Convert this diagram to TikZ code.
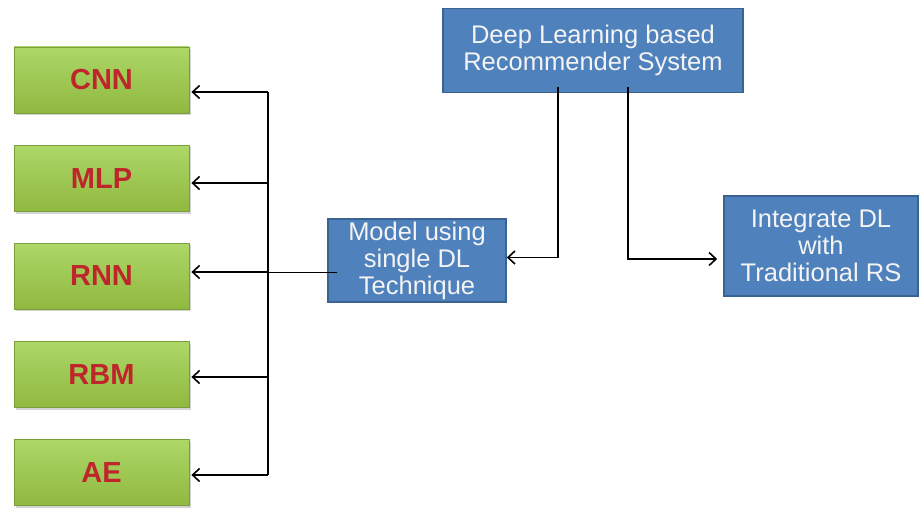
\documentclass[tikz,border=0pt]{standalone}
\usepackage{fontspec}
\setmainfont{Liberation Sans}
\usepackage{tikz}
\usetikzlibrary{arrows.meta,shadows}
\definecolor{boxblue}{HTML}{4F81BD}
\definecolor{edgeblue}{HTML}{3A6393}
\definecolor{greentop}{HTML}{ADD767}
\definecolor{greenbot}{HTML}{8FB940}
\definecolor{edgegreen}{HTML}{7C9E3A}
\definecolor{labelred}{HTML}{BE262C}
\definecolor{paletext}{HTML}{F4F4F4}

\begin{document}
\begin{tikzpicture}[x=1pt,y=-1pt,
   dlbox/.style={draw=edgeblue,line width=1.6pt,fill=boxblue,text=paletext,align=center,
      font=\fontsize{25.5}{27}\selectfont,inner sep=0pt},
   algbox/.style={draw=edgegreen,line width=0.8pt,top color=greentop,bottom color=greenbot,
      minimum width=175pt,minimum height=66pt,inner sep=0pt,text=labelred,
      font=\fontsize{29}{30}\selectfont\bfseries,
      drop shadow={opacity=0.35,shadow xshift=1.5pt,shadow yshift=-2pt}},
   arr/.style={-{Straight Barb[length=7pt,width=13pt]},line width=1.6pt}]
   \useasboundingbox (0,0) rectangle (921,508);
   % green technique boxes
   \node [algbox] (cnn) at (101.5,80) {CNN};
   \node [algbox] (mlp) at (101.5,178.5) {MLP};
   \node [algbox] (rnn) at (101.5,276) {RNN};
   \node [algbox] (rbm) at (101.5,374.5) {RBM};
   \node [algbox] (ae) at (101.5,472.5) {AE};
   % blue boxes
   \node [dlbox,minimum width=300pt,minimum height=84pt] (drs) at (593,50.5) {Deep Learning based\\Recommender System};
   \node [dlbox,minimum width=178pt,minimum height=83pt] (model) at (417,260.5) {Model using\\single DL\\Technique};
   \node [dlbox,minimum width=194pt,minimum height=100pt] (integ) at (821,246) {Integrate DL\\with\\Traditional RS};
   \coordinate (bustop) at (268,92);
   \coordinate (busbot) at (268,475);
   \draw [arr] ([xshift=-35pt,yshift=6pt]drs.south) |- ([yshift=3pt]model.east); % left branch
   \draw [arr,shorten >=6pt] ([xshift=35pt,yshift=6pt]drs.south) |- ([yshift=-13pt]integ.west); % right branch
   \draw [line width=1.6pt] ([xshift=10pt,yshift=-12pt]model.west) -- ([yshift=-12pt]model.west -| bustop); % into bus
   \draw [line width=1.6pt] (bustop) -- (busbot); % bus
   \foreach \n/\dy in {cnn/12,mlp/4.5,rnn/-4,rbm/2.5,ae/2.5}
      \draw [arr,shorten >=2pt] ([yshift=-\dy pt]\n.east -| bustop) -- ([yshift=-\dy pt]\n.east);
\end{tikzpicture}
\end{document}
